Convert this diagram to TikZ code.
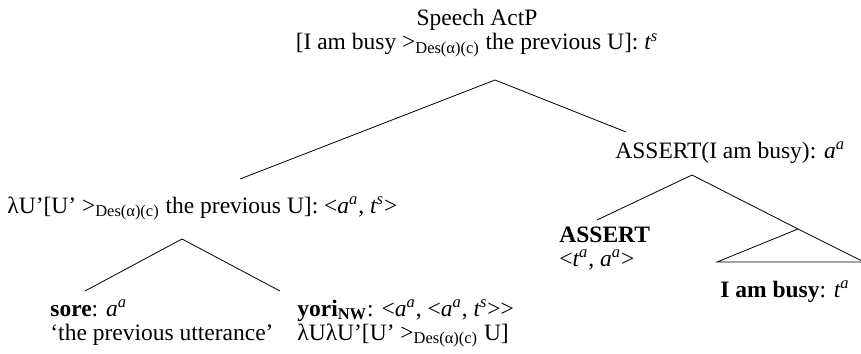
\documentclass[tikz,border=0pt]{standalone}
\usepackage{fontspec}
\setmainfont[Ligatures=NoCommon]{Liberation Serif}
\begin{document}
\begin{tikzpicture}[x=0.5pt, y=-0.5pt, every node/.style={inner sep=0pt, font=\fontsize{11.75pt}{12pt}\selectfont}]
            \useasboundingbox (0, 0) rectangle (861, 353);
            % Nodes
            \node[anchor=base, align=center] at (477, 50) (sap) {Speech ActP\\{}[I am busy >\textsubscript{Des(α)(c)} the previous U]: \textit{t\textsuperscript{s}}};
            \node[anchor=base west] at (7, 213) (lu) {λU’[U’ >\textsubscript{Des(α)(c)} the previous U]: <\textit{a\textsuperscript{a}}, \textit{t\textsuperscript{s}}>};
            \node[anchor=base west] at (615, 158) (as) {ASSERT(I am busy): \textit{a\textsuperscript{a}}};
            \node[anchor=base west, align=left] at (559, 266) (asr) {\textbf{ASSERT}\\<\textit{t\textsuperscript{a}}, \textit{a\textsuperscript{a}}>};
            \node[anchor=base] at (785, 297) (busy) {\textbf{I am busy}: \textit{t\textsuperscript{a}}};
            \node[anchor=base west, align=left] at (50, 340) (sore) {\textbf{sore}: \textit{a\textsuperscript{a}}\\‘the previous utterance’};
            \node[anchor=base west, align=left] at (297, 340) (yori) {\textbf{yori\textsubscript{NW}}: <\textit{a\textsuperscript{a}}, <\textit{a\textsuperscript{a}}, \textit{t\textsuperscript{s}}>{}>\\λUλU’[U’ >\textsubscript{Des(α)(c)} U]};

            % Joints
            \coordinate (sapj) at (495, 80);
            \coordinate (luj) at (182, 239);
            \coordinate (asj) at (692, 175);
            \coordinate (busyj) at (798, 229);
            \coordinate (luend) at (240, 179);
            \coordinate (asend) at (626, 132);
            \coordinate (soreend) at (85, 291);
            \coordinate (yoriend) at (280, 291);
            \coordinate (asrend) at (597, 220);
            \coordinate (busyl) at (717, 262);
            \coordinate (busyr) at (864, 262);

            % Edges
            \draw (sapj) -- (luend);
            \draw (sapj) -- (asend);
            \draw (luj) -- (soreend);
            \draw (luj) -- (yoriend);
            \draw (asj) -- (asrend);
            \draw (asj) -- (busyj);
            \draw (busyj) -- (busyl) -- (busyr) -- cycle;
        \end{tikzpicture}
\end{document}
